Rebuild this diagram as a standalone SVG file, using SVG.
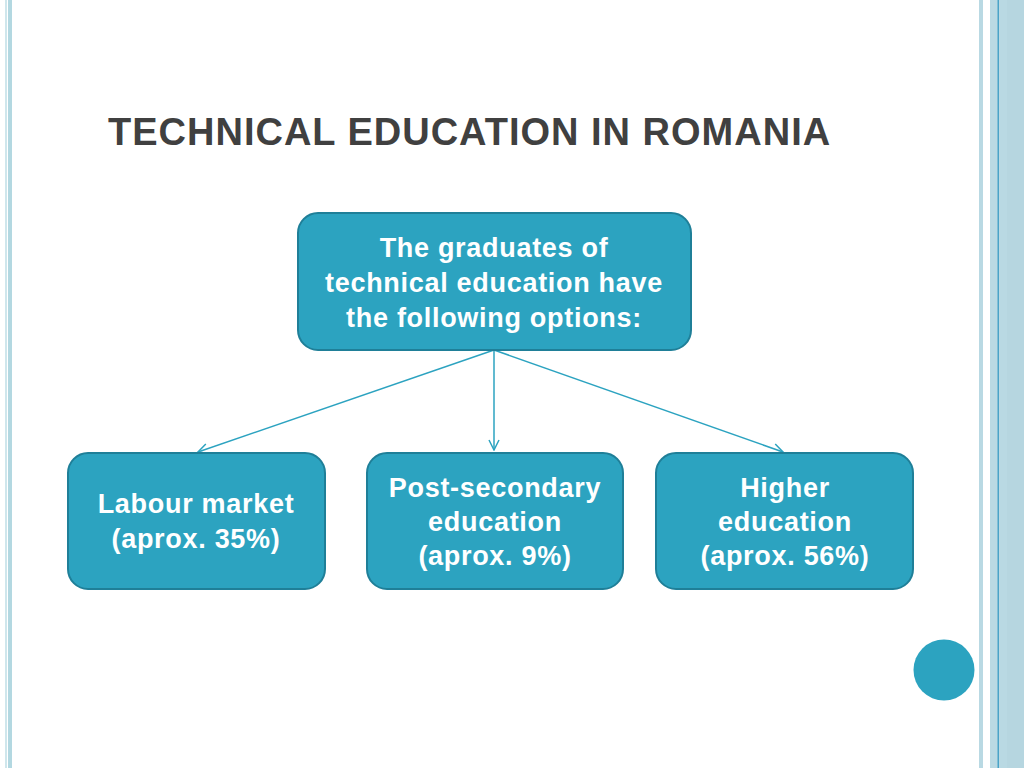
<svg xmlns="http://www.w3.org/2000/svg" width="1024" height="768" viewBox="0 0 1024 768">
<defs>
<style>
.box{fill:#2ca3c0;stroke:#1f7f98;stroke-width:2}
.t{font-family:"Liberation Sans",Arial,sans-serif;font-weight:bold;fill:#ffffff;font-size:27px;letter-spacing:0.7px;text-anchor:middle}
.c{stroke:#2ca3c0;stroke-width:1.5;fill:none;marker-end:url(#ah)}
</style>
<marker id="ah" viewBox="0 0 12 12" refX="11" refY="6" markerWidth="12" markerHeight="12" markerUnits="userSpaceOnUse" orient="auto">
<path d="M1,1 L11,6 L1,11" fill="none" stroke="#2ca3c0" stroke-width="1.5"/>
</marker>
</defs>
<rect width="1024" height="768" fill="#ffffff"/>
<g id="frame">
<rect x="5" y="0" width="2" height="768" fill="#cfe6ec"/>
<rect x="8" y="0" width="4" height="768" fill="#b3d8e1"/>
<rect x="979" y="0" width="4" height="768" fill="#b9d9e3"/>
<rect x="990" y="0" width="34" height="768" fill="#b9d9e3"/>
<rect x="997.5" y="0" width="1.5" height="768" fill="#4aa3c7"/>
<rect x="1007" y="0" width="17" height="768" fill="#b6d6e0"/>
<circle cx="944" cy="670" r="30.5" fill="#2ca3c0"/>
</g>
<text x="108" y="145" font-family="'Liberation Sans',Arial,sans-serif" font-weight="bold" font-size="38" letter-spacing="1" fill="#404040">TECHNICAL EDUCATION IN ROMANIA</text>
<g id="connectors">
<line class="c" x1="494" y1="350" x2="198" y2="452"/>
<line class="c" x1="494" y1="350" x2="494" y2="450"/>
<line class="c" x1="494" y1="350" x2="783" y2="452"/>
</g>
<g id="top">
<rect class="box" x="298" y="213" width="393" height="137" rx="20"/>
<text class="t" x="494" y="257">The graduates of</text>
<text class="t" x="494" y="292">technical education have</text>
<text class="t" x="494" y="327">the following options:</text>
</g>
<g id="labour">
<rect class="box" x="68" y="453" width="257" height="136" rx="20"/>
<text class="t" x="196" y="513">Labour market</text>
<text class="t" x="196" y="548">(aprox. 35%)</text>
</g>
<g id="postsec">
<rect class="box" x="367" y="453" width="256" height="136" rx="20"/>
<text class="t" x="495" y="497">Post-secondary</text>
<text class="t" x="495" y="531">education</text>
<text class="t" x="495" y="565">(aprox. 9%)</text>
</g>
<g id="higher">
<rect class="box" x="656" y="453" width="257" height="136" rx="20"/>
<text class="t" x="785" y="497">Higher</text>
<text class="t" x="785" y="531">education</text>
<text class="t" x="785" y="565">(aprox. 56%)</text>
</g>
</svg>
